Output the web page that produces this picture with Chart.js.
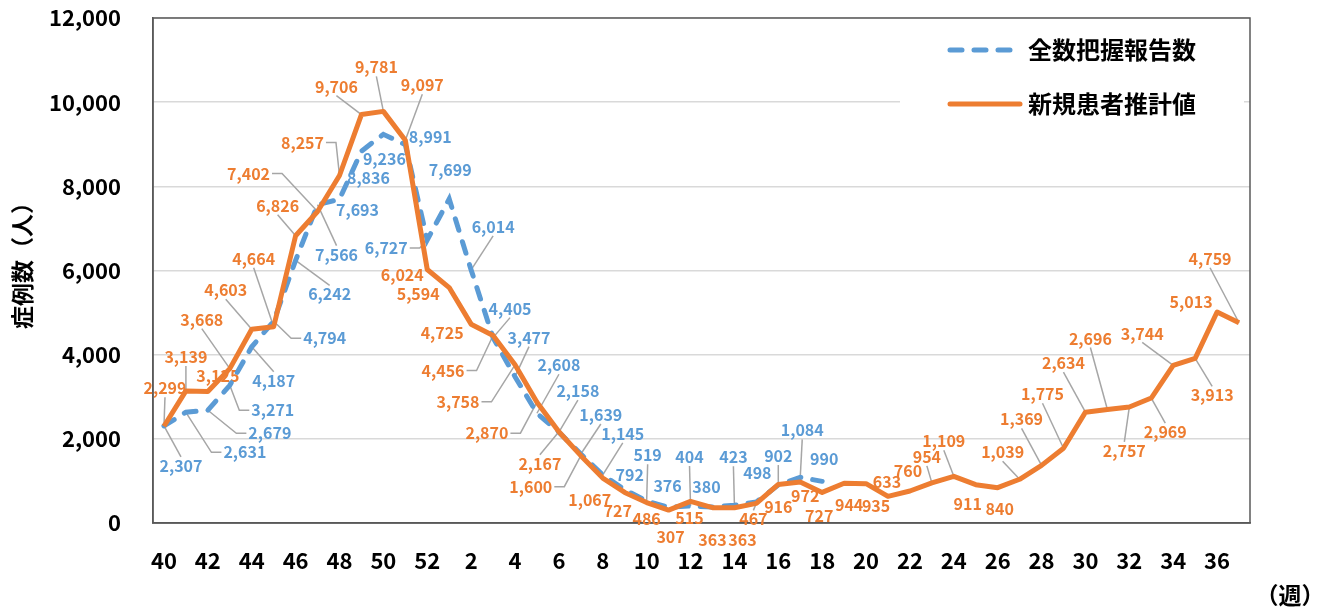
<!DOCTYPE html>
<html>
<head>
<meta charset="utf-8">
<script src="https://cdn.jsdelivr.net/npm/chart.js@4/dist/chart.umd.min.js"></script>
<style>
  body { margin: 0; background: #fff; }
  canvas { display: block; }
</style>
</head>
<body>
<canvas id="grafico" width="1319" height="610"></canvas>
<script>
// 週（40〜52、1〜37）
const semanas = ['40','41','42','43','44','45','46','47','48','49','50','51','52',
  '1','2','3','4','5','6','7','8','9','10','11','12','13','14','15','16','17','18',
  '19','20','21','22','23','24','25','26','27','28','29','30','31','32','33','34','35','36','37'];

// 全数把握報告数 (hasta la semana 18)
const reportados = [2307, 2631, 2679, 3271, 4187, 4794, 6242, 7566, 7693, 8836, 9236, 8991, 6727,
  7699, 6014, 4405, 3477, 2608, 2158, 1639, 1145, 792, 519, 376, 404, 380, 423, 498, 902, 1084, 990];

// 新規患者推計値
const estimados = [2299, 3139, 3125, 3668, 4603, 4664, 6826, 7402, 8257, 9706, 9781, 9097, 6024,
  5594, 4725, 4456, 3758, 2870, 2167, 1600, 1067, 727, 486, 307, 515, 363, 363, 467, 916, 972, 727,
  944, 935, 633, 760, 954, 1109, 911, 840, 1039, 1369, 1775, 2634, 2696, 2757, 2969, 3744, 3913, 5013, 4759];

// Colocación de etiquetas: [dx, dy, línea guía]
const posReportados = [
  [17,40,1],[59,40,1],[62,23,1],[43,25,1],[22,34,1],[51,17,1],[34,34,1],[19,50,1],[18,11,0],[7,27,0],
  [1,25,0],[25,-8,0],[-41,8,1],[1,-29,0],[22,-43,1],[17,-29,1],[14,-39,1],[22,-48,1],[19,-41,1],[20,-39,1],
  [20,-41,1],[5,-15,0],[1,-46,1],[-1,-21,0],[-1,-49,1],[-6,-20,0],[-1,-48,1],[1,-29,0],[0,-29,1],[2,-47,1],
  [2,-22,0]
];
const posEstimados = [
  [1,-38,1],[0,-34,1],[10,-16,0],[-28,-49,1],[-26,-39,1],[-20,-68,1],[-18,-30,1],[-69,-38,1],[-37,-33,1],[-25,-28,1],
  [-7,-44,1],[17,-55,1],[-25,5,0],[-31,6,0],[-29,9,0],[-50,35,1],[-57,37,1],[-50,31,1],[-19,32,1],[-50,31,1],
  [-13,22,0],[-7,19,0],[0,16,0],[2,27,0],[-1,17,0],[0,32,0],[8,32,0],[-3,16,1],[0,22,0],[5,14,0],
  [-3,24,0],[5,22,0],[10,22,0],[-1,-14,0],[-2,-20,0],[-5,-26,1],[-10,-35,1],[-8,19,0],[2,21,0],[-17,-27,1],
  [-20,-46,1],[-21,-54,1],[-22,-49,1],[-17,-71,1],[-5,44,1],[14,34,1],[-31,-32,1],[17,37,1],[-26,-10,0],[-29,-64,1]
];

const colores = {
  azul: '#5b9bd5',
  naranja: '#ed7d31',
  guia: '#a6a6a6',
  borde: '#595959',
  rejilla: '#d9d9d9'
};
const fuente = "'Noto Sans CJK JP', 'Noto Sans', sans-serif";

// Etiquetas de datos con líneas guía y marco del área
const etiquetas = {
  id: 'etiquetas',
  beforeDatasetsDraw(chart) {
    const ctx = chart.ctx;
    const a = chart.chartArea;
    ctx.save();
    ctx.strokeStyle = colores.borde;
    ctx.lineWidth = 1.5;
    ctx.strokeRect(a.left, a.top, a.right - a.left, a.bottom - a.top);

    ctx.font = 'bold 16px ' + fuente;
    ctx.textAlign = 'center';
    ctx.textBaseline = 'middle';
    chart.data.datasets.forEach((ds, di) => {
      const meta = chart.getDatasetMeta(di);
      meta.data.forEach((pt, i) => {
        const p = ds.posEtiquetas[i];
        if (!p) return;
        const txt = ds.data[i].toLocaleString('en-US');
        const cx = pt.x + p[0], cy = pt.y + p[1];
        const hw = ctx.measureText(txt).width / 2 + 2, hh = 9;
        if (p[2]) {
          ctx.beginPath();
          ctx.strokeStyle = colores.guia;
          ctx.lineWidth = 1.5;
          if (Math.abs(p[1]) >= Math.abs(p[0])) {
            ctx.moveTo(cx, p[1] > 0 ? cy - hh : cy + hh);
          } else {
            const ex = p[0] > 0 ? cx - hw : cx + hw;
            ctx.moveTo(ex, cy);
            ctx.lineTo(p[0] > 0 ? ex - 10 : ex + 10, cy);
          }
          ctx.lineTo(pt.x, pt.y);
          ctx.stroke();
        }
        ctx.fillStyle = ds.borderColor;
        ctx.fillText(txt, cx, cy);
      });
    });
    ctx.restore();
  },
  afterDraw(chart) {
    const ctx = chart.ctx;
    const a = chart.chartArea;
    ctx.save();
    // leyenda dentro del área
    const lx = a.right - 300;
    ctx.fillStyle = '#fff';
    ctx.fillRect(a.right - 350, a.top + 10, 344, 100);
    ctx.lineCap = 'round';
    ctx.lineWidth = 5;
    ctx.strokeStyle = colores.azul;
    ctx.setLineDash([12, 12]);
    ctx.beginPath();
    ctx.moveTo(lx, a.top + 32);
    ctx.lineTo(lx + 62, a.top + 32);
    ctx.stroke();
    ctx.setLineDash([]);
    ctx.strokeStyle = colores.naranja;
    ctx.beginPath();
    ctx.moveTo(lx, a.top + 86);
    ctx.lineTo(lx + 70, a.top + 86);
    ctx.stroke();
    ctx.fillStyle = '#000';
    ctx.font = 'bold 24px ' + fuente;
    ctx.textAlign = 'left';
    ctx.textBaseline = 'middle';
    ctx.fillText('全数把握報告数', lx + 78, a.top + 32);
    ctx.fillText('新規患者推計値', lx + 78, a.top + 86);

    // títulos de ejes
    ctx.font = 'bold 23px ' + fuente;
    ctx.textAlign = 'center';
    ctx.fillText('（週）', 1290, 595);
    ctx.translate(22, 260);
    ctx.rotate(-Math.PI / 2);
    ctx.fillText('症例数（人）', 0, 0);
    ctx.restore();
  }
};

new Chart(document.getElementById('grafico'), {
  type: 'line',
  data: {
    labels: semanas,
    datasets: [{
      label: '全数把握報告数',
      data: reportados,
      posEtiquetas: posReportados,
      borderColor: colores.azul,
      borderWidth: 5,
      borderDash: [12, 12],
      borderCapStyle: 'round',
      pointRadius: 0,
      tension: 0,
      order: 1
    }, {
      label: '新規患者推計値',
      data: estimados,
      posEtiquetas: posEstimados,
      borderColor: colores.naranja,
      borderWidth: 5,
      borderJoinStyle: 'round',
      pointRadius: 0,
      tension: 0,
      order: 0
    }]
  },
  options: {
    responsive: false,
    animation: false,
    devicePixelRatio: 1,
    layout: { padding: { top: 18, right: 69, left: 0, bottom: 0 } },
    plugins: {
      legend: { display: false },
      tooltip: { enabled: false }
    },
    scales: {
      x: {
        offset: true,
        grid: { display: false, drawTicks: false },
        border: { color: colores.borde, width: 1.5 },
        ticks: {
          autoSkip: false,
          maxRotation: 0,
          padding: 24,
          color: '#000',
          font: { family: fuente, size: 22, weight: 'bold' },
          callback: function(value, index) {
            return index % 2 === 0 ? semanas[index] : '';
          }
        },
        afterFit: function(scale) { scale.height = 87; }
      },
      y: {
        min: 0,
        max: 12000,
        grid: { color: colores.rejilla, lineWidth: 1.5, drawTicks: false },
        border: { color: colores.borde, width: 1.5 },
        ticks: {
          stepSize: 2000,
          padding: 32,
          color: '#000',
          font: { family: fuente, size: 22, weight: 'bold' },
          callback: function(value) { return value.toLocaleString('en-US'); }
        },
        afterFit: function(scale) {
          scale.width = 153;
          scale.paddingTop = 0;
          scale.paddingBottom = 0;
        }
      }
    }
  },
  plugins: [etiquetas]
});
</script>
</body>
</html>
